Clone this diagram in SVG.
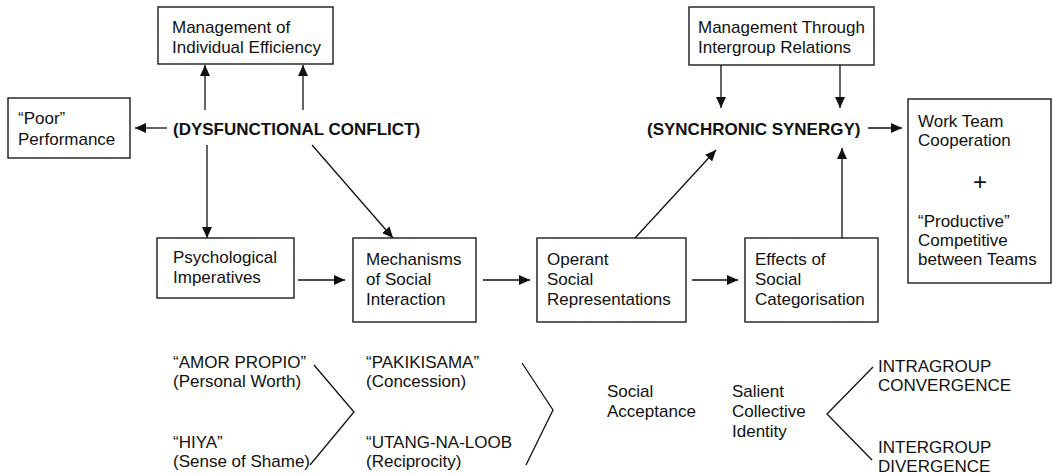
<svg xmlns="http://www.w3.org/2000/svg" width="1054" height="474" viewBox="0 0 1054 474">
<style>
  .box { fill: #fff; stroke: #1a1a1a; stroke-width: 1.4; }
  .t { font-family: "Liberation Sans", Arial, sans-serif; font-size: 17px; fill: #111; }
  .b { font-family: "Liberation Sans", Arial, sans-serif; font-size: 17px; font-weight: bold; fill: #111; }
  .plus { font-family: "Liberation Sans", Arial, sans-serif; font-size: 24px; fill: #111; }
  .c { stroke: #111; stroke-width: 1.3; fill: none; }
  .ch { stroke: #111; stroke-width: 1.3; fill: none; stroke-linejoin: miter; }
</style>
<defs>
  <marker id="ah" markerUnits="userSpaceOnUse" markerWidth="12" markerHeight="10" viewBox="0 0 12 10" refX="11" refY="5" orient="auto">
    <path d="M0,0 L11,5 L0,10 z" fill="#111"/>
  </marker>
</defs>
<rect width="1054" height="474" fill="#fff"/>

<g id="mie">
  <rect class="box" x="158" y="7" width="175" height="57"/>
  <text class="t" x="172" y="33">Management of</text>
  <text class="t" x="172" y="53">Individual Efficiency</text>
</g>
<g id="poor">
  <rect class="box" x="8" y="98" width="122" height="60"/>
  <text class="t" x="18" y="124">“Poor”</text>
  <text class="t" x="18" y="145">Performance</text>
</g>
<g id="dys">
  <text class="b" x="173" y="135">(DYSFUNCTIONAL CONFLICT)</text>
</g>
<g id="mtir">
  <rect class="box" x="689" y="7" width="185" height="58"/>
  <text class="t" x="698" y="33">Management Through</text>
  <text class="t" x="698" y="53">Intergroup Relations</text>
</g>
<g id="syn">
  <text class="b" x="647" y="135">(SYNCHRONIC SYNERGY)</text>
</g>
<g id="work">
  <rect class="box" x="908" y="99" width="143" height="184"/>
  <text class="t" x="918" y="127">Work Team</text>
  <text class="t" x="918" y="146">Cooperation</text>
  <text class="plus" x="980" y="190" text-anchor="middle">+</text>
  <text class="t" x="918" y="227">“Productive”</text>
  <text class="t" x="918" y="246">Competitive</text>
  <text class="t" x="918" y="265">between Teams</text>
</g>
<g id="psych">
  <rect class="box" x="157" y="238" width="137" height="60"/>
  <text class="t" x="173" y="263">Psychological</text>
  <text class="t" x="173" y="283">Imperatives</text>
</g>
<g id="mech">
  <rect class="box" x="353" y="238" width="123" height="84"/>
  <text class="t" x="366" y="265">Mechanisms</text>
  <text class="t" x="366" y="285">of Social</text>
  <text class="t" x="366" y="305">Interaction</text>
</g>
<g id="operant">
  <rect class="box" x="537" y="238" width="149" height="84"/>
  <text class="t" x="547" y="265">Operant</text>
  <text class="t" x="547" y="285">Social</text>
  <text class="t" x="547" y="305">Representations</text>
</g>
<g id="effects">
  <rect class="box" x="745" y="238" width="133" height="84"/>
  <text class="t" x="755" y="265">Effects of</text>
  <text class="t" x="755" y="285">Social</text>
  <text class="t" x="755" y="305">Categorisation</text>
</g>

<g id="connectors">
  <line class="c" x1="167" y1="128" x2="135" y2="128" marker-end="url(#ah)"/>
  <line class="c" x1="205" y1="110" x2="205" y2="65" marker-end="url(#ah)"/>
  <line class="c" x1="303" y1="110" x2="303" y2="65" marker-end="url(#ah)"/>
  <line class="c" x1="207" y1="145" x2="207" y2="238" marker-end="url(#ah)"/>
  <line class="c" x1="312" y1="145" x2="393" y2="238" marker-end="url(#ah)"/>
  <line class="c" x1="298" y1="280" x2="345" y2="280" marker-end="url(#ah)"/>
  <line class="c" x1="483" y1="280" x2="530" y2="280" marker-end="url(#ah)"/>
  <line class="c" x1="692" y1="280" x2="738" y2="280" marker-end="url(#ah)"/>
  <line class="c" x1="635" y1="238" x2="716" y2="150" marker-end="url(#ah)"/>
  <line class="c" x1="842" y1="238" x2="842" y2="148" marker-end="url(#ah)"/>
  <line class="c" x1="721" y1="65" x2="721" y2="108" marker-end="url(#ah)"/>
  <line class="c" x1="840" y1="65" x2="840" y2="108" marker-end="url(#ah)"/>
  <line class="c" x1="868" y1="128" x2="902" y2="128" marker-end="url(#ah)"/>
</g>

<g id="bottom">
  <text class="t" x="173" y="368">“AMOR PROPIO”</text>
  <text class="t" x="173" y="387">(Personal Worth)</text>
  <text class="t" x="173" y="448">“HIYA”</text>
  <text class="t" x="173" y="467">(Sense of Shame)</text>
  <polyline class="ch" points="314,365 354,412 310,465"/>
  <text class="t" x="366" y="368">“PAKIKISAMA”</text>
  <text class="t" x="366" y="387">(Concession)</text>
  <text class="t" x="366" y="448">“UTANG-NA-LOOB</text>
  <text class="t" x="366" y="467">(Reciprocity)</text>
  <polyline class="ch" points="522,363 553,410 526,465"/>
  <text class="t" x="607" y="397">Social</text>
  <text class="t" x="607" y="417">Acceptance</text>
  <text class="t" x="732" y="397">Salient</text>
  <text class="t" x="732" y="417">Collective</text>
  <text class="t" x="732" y="437">Identity</text>
  <polyline class="ch" points="873,367 827,414 872,460"/>
  <text class="t" x="878" y="372">INTRAGROUP</text>
  <text class="t" x="878" y="391">CONVERGENCE</text>
  <text class="t" x="878" y="453">INTERGROUP</text>
  <text class="t" x="878" y="472">DIVERGENCE</text>
</g>
</svg>
